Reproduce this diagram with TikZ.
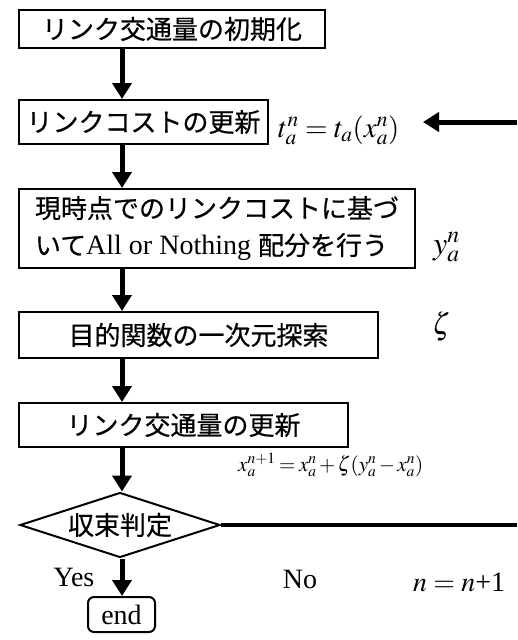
\documentclass[tikz,border=0pt]{standalone}
\usepackage{mathptmx}
\usepackage[no-math]{fontspec}
\setmainfont{Liberation Serif}
\newfontfamily\jp[FakeBold=0.5]{Noto Sans CJK JP}
\usetikzlibrary{arrows.meta,shapes.geometric}
\begin{document}
\begin{tikzpicture}[x=1pt,y=-1pt,
  box/.style={draw,line width=2pt,inner sep=0pt,font=\jp\fontsize{26}{37}\selectfont},
  flow/.style={line width=5pt,-{Triangle[width=19pt,length=16pt]}},
  lbl/.style={inner sep=0pt,font=\fontsize{28}{32}\selectfont},
  mth/.style={inner sep=0pt,font=\fontsize{29}{32}\selectfont}]
\useasboundingbox (0,0) rectangle (517,640);
\coordinate (ax) at (122,0);
% boxes
\node[box,minimum width=306pt,minimum height=38pt] (b1) at (172,29) {リンク交通量の初期化};
\node[box,minimum width=249pt,minimum height=44pt] (b2) at (143.5,122) {リンクコストの更新};
\node[box,minimum width=396pt,minimum height=79pt,align=left] (b3) at (217,228.5)
  {現時点でのリンクコストに基づ\\いて{\rmfamily\fontsize{28}{37}\selectfont All or Nothing }配分を行う};
\node[box,minimum width=359pt,minimum height=46pt] (b4) at (198.5,335) {目的関数の一次元探索};
\node[box,minimum width=329pt,minimum height=44pt] (b5) at (183.5,425) {リンク交通量の更新};
\node[box,shape=diamond,aspect=3.08,minimum width=200pt,minimum height=65pt] (dm) at (120,525) {収束判定};
\node[draw,line width=2pt,rounded corners=6pt,inner sep=0pt,minimum width=67pt,minimum height=35pt,lbl] (end) at (121.5,614.5) {end};
% connectors
\draw[flow] (b1.south -| ax) -- (b2.north -| ax);
\draw[flow] (b2.south -| ax) -- (b3.north -| ax);
\draw[flow] (b3.south -| ax) -- (b4.north -| ax);
\draw[flow] (b4.south -| ax) -- (b5.north -| ax);
\draw[flow] (b5.south -| ax) -- (dm.north -| ax);
\draw[flow] (dm.south -| ax) -- (end.north -| ax);
\coordinate (r1) at (517,122);
\coordinate (r1tip) at (423,122);
\draw[flow] (r1) -- (r1tip);
\coordinate (r2) at (517,525);
\draw[line width=4.5pt] (dm.east) -- (r2);
% labels
\node[mth,anchor=base west] (f1) at (278,137) {$t_a^n = t_a(x_a^n)$};
\node[mth,anchor=base west,font=\fontsize{32}{36}\selectfont] (yv) at (433,254) {$y_a^n$};
\node[mth,anchor=base west,font=\fontsize{30}{36}\selectfont] (zt) at (432,334) {$\zeta$};
\node[mth,anchor=base west,font=\fontsize{21}{26}\selectfont] (f2) at (238,471)
  {$\medmuskip=2mu\thickmuskip=3mu x_a^{n+1} = x_a^n + \zeta(y_a^n - x_a^n)$};
\node[lbl] (yes) at (74,577) {Yes};
\node[lbl] (no) at (300,579) {No};
\node[mth,anchor=west,font=\fontsize{28}{32}\selectfont] (nn) at (413,582) {$n = n$+1};
\end{tikzpicture}
\end{document}
